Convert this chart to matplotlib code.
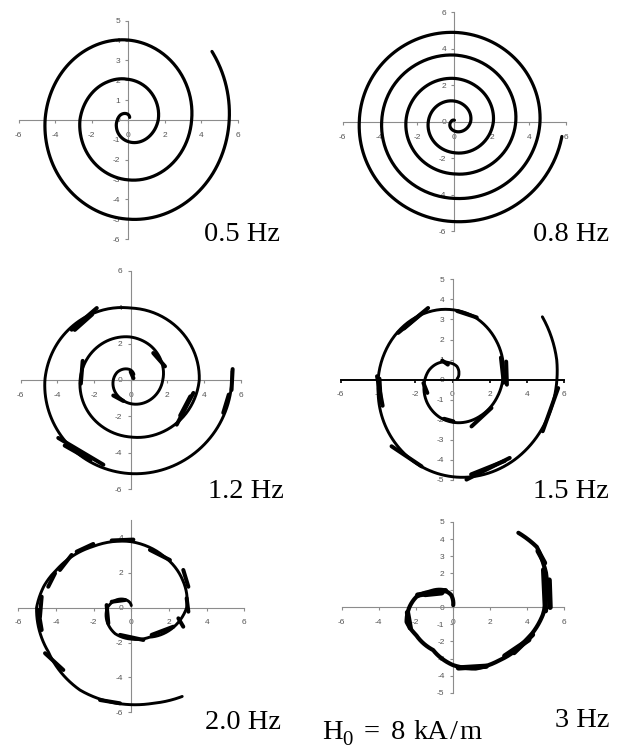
import numpy as np
import matplotlib
matplotlib.use("Agg")
import matplotlib.pyplot as plt
from matplotlib.projections.polar import PolarAxes
from matplotlib.path import Path
from matplotlib.patches import PathPatch

plt.rcParams['axes.unicode_minus'] = False
plt.rcParams['font.family'] = ['Liberation Sans', 'DejaVu Sans']

# ---------------- data ----------------
freq_labels = ["0.5 Hz", "0.8 Hz", "1.2 Hz", "1.5 Hz", "2.0 Hz", "3 Hz"]
# "H0 = 8 kA/m" split into its pieces: (text, is_subscript)
field_pieces = [("H", False), ("0", True), ("=", False), ("8", False),
                ("kA", False), ("/", False), ("m", False)]

# spiral traces: polar angle (deg, counter-clockwise, cumulative) and radius
theta_05 = [60, 90, 120, 150, 180, 210, 240, 270, 300, 330, 360, 390, 420, 450, 480, 510,
            540, 570, 600, 630, 660, 690, 720, 750, 780, 810, 840, 870, 900, 930, 960, 990,
            1020, 1050, 1080, 1110, 1117]
r_05 = [0.15, 0.27, 0.38, 0.5, 0.6, 0.75, 0.92, 1.09, 1.27, 1.45, 1.64, 1.78, 1.92, 2.05, 2.23,
        2.44, 2.65, 2.78, 2.9, 3.02, 3.17, 3.32, 3.47, 3.65, 3.84, 4.03, 4.2, 4.38, 4.56, 4.71,
        4.85, 5.0, 5.18, 5.36, 5.53, 5.7, 5.74]

theta_08 = [90, 120, 150, 180, 210, 240, 270, 300, 330, 360, 390, 420, 450, 480, 510, 540, 570,
            600, 630, 660, 690, 720, 750, 780, 810, 840, 870, 900, 930, 960, 990, 1020, 1050,
            1080, 1110, 1140, 1170, 1200, 1230, 1260, 1290, 1320, 1350, 1380, 1410, 1440, 1470,
            1500, 1530, 1560, 1590, 1620, 1650, 1680, 1710, 1740, 1770, 1792]
r_08 = [0.08, 0.1, 0.14, 0.18, 0.28, 0.4, 0.51, 0.63, 0.75, 0.87,
        0.96, 1.04, 1.13, 1.22, 1.31, 1.4, 1.5, 1.6, 1.7, 1.83,
        1.96, 2.09, 2.18, 2.27, 2.37, 2.45, 2.52, 2.6, 2.68, 2.77,
        2.86, 3.0, 3.15, 3.29, 3.41, 3.53, 3.65, 3.73, 3.82, 3.9,
        4.0, 4.1, 4.2, 4.33, 4.46, 4.59, 4.69, 4.79, 4.89, 4.96,
        5.03, 5.1, 5.22, 5.35, 5.47, 5.6, 5.72, 5.82]

theta_12 = [60, 90, 120, 150, 180, 210, 240, 270, 300, 330, 360, 390, 420, 450, 480, 510, 540,
            570, 600, 630, 660, 690, 720, 750, 780, 810, 840, 870, 900, 930, 960, 990, 1020,
            1050, 1080, 1085]
r_12 = [0.35, 0.55, 0.7, 0.85, 0.95, 1.05, 1.15, 1.3, 1.45, 1.6,
        1.75, 1.95, 2.17, 2.36, 2.5, 2.63, 2.76, 2.88, 3.0, 3.13,
        3.33, 3.54, 3.74, 3.8, 3.87, 3.95, 4.2, 4.45, 4.68, 4.83,
        4.99, 5.14, 5.27, 5.4, 5.52, 5.55]

theta_15 = [10, 40, 70, 100, 130, 160, 190, 220, 250, 280, 310, 340, 370, 400, 430, 460, 490,
            520, 550, 580, 610, 640, 670, 700, 730, 753]
r_15 = [0.25, 0.45, 0.7, 0.85, 1.1, 1.35, 1.55, 1.78, 2.0, 2.18, 2.35, 2.55, 2.78, 3.05, 3.35,
        3.55, 3.72, 3.88, 4.05, 4.35, 4.65, 4.93, 5.2, 5.45, 5.68, 5.75]

theta_20 = [90, 120, 150, 180, 210, 240, 270, 300, 330, 360, 390, 420, 450, 480, 510, 525, 540,
            570, 600, 622, 642, 658]
r_20 = [0.12, 0.5, 0.9, 1.27, 1.5, 1.72, 1.8, 1.95, 2.45, 2.94, 3.15, 3.42, 3.78, 4.05, 4.5,
        4.8, 5.03, 5.08, 5.45, 5.53, 5.6, 5.76]

theta_30 = [81, 97, 118, 144, 163, 180, 199, 219, 247, 270, 289, 309, 334, 355, 369, 382, 388,
            398, 411]
r_30 = [0.13, 0.73, 1.15, 1.55, 2.07, 2.35, 2.64, 2.56, 2.72, 3.38, 3.79, 3.99, 4.4, 4.88,
        5.11, 5.42, 5.52, 5.75, 5.62]

# short doubled strokes (x, y endpoints in data units)
strokes_05 = []
strokes_08 = []
strokes_12 = [
    [(-3.22, 2.76), (-1.85, 3.95)], [(-3.05, 2.75), (-2.1, 3.6)],
    [(-2.62, 1.05), (-2.72, -0.2)], [(1.23, 1.48), (1.87, 0.75)],
    [(3.42, -0.71), (2.51, -2.45)], [(3.25, -0.9), (2.7, -1.95)],
    [(-3.95, -3.18), (-1.49, -4.65)], [(-3.6, -3.6), (-2.2, -4.4)],
    [(5.56, 0.6), (5.5, -0.55)], [(5.35, -0.8), (5.05, -1.8)],
    [(-0.95, -0.85), (-0.4, -1.15)], [(0.0, 0.45), (0.15, 0.1)],
]
strokes_15 = [
    [(-2.92, 2.33), (-1.31, 3.57)], [(-2.6, 2.55), (-1.7, 3.25)],
    [(0.25, 3.42), (1.3, 3.1)], [(2.6, 1.1), (2.75, -0.15)],
    [(2.88, 0.9), (2.92, -0.25)], [(1.02, -2.33), (2.09, -1.41)],
    [(-0.45, -1.95), (0.05, -2.08)], [(-1.56, -0.17), (-1.35, -0.66)],
    [(-0.55, 0.95), (-0.25, 0.75)], [(-4.05, 0.17), (-3.75, -1.3)],
    [(-3.92, 0.05), (-3.85, -1.15)], [(-3.27, -3.32), (-1.66, -4.32)],
    [(0.75, -4.98), (3.07, -3.9)], [(1.0, -4.72), (2.8, -4.05)],
    [(5.67, -0.42), (4.84, -2.57)],
]
strokes_20 = [
    [(-1.04, 3.85), (0.11, 3.9)], [(-2.9, 3.21), (-2.02, 3.65)],
    [(-3.79, 2.16), (-3.17, 3.02)], [(-4.41, 1.2), (-4.05, 1.97)],
    [(-4.76, 0.63), (-4.85, -0.52)], [(-4.94, -0.13), (-4.76, -1.28)],
    [(-4.58, -2.61), (-3.61, -3.57)], [(-1.66, -5.29), (-0.6, -5.48)],
    [(0.99, 3.31), (2.05, 2.73)], [(2.76, 2.16), (3.03, 1.2)],
    [(2.94, 0.54), (3.03, -0.23)], [(2.5, -0.61), (2.76, -1.09)],
    [(1.08, -1.56), (2.23, -1.09)], [(-0.6, -1.56), (0.64, -1.85)],
    [(-1.31, 0.15), (-1.22, -0.9)], [(-1.04, 0.34), (-0.33, 0.44)],
]
strokes_30 = [
    [(-1.9, 0.72), (-0.4, 0.98)], [(-1.5, 0.75), (-0.6, 0.85)],
    [(-2.45, -0.3), (-2.3, -1.2)], [(2.8, -2.85), (4.1, -1.9)],
    [(3.3, -2.65), (4.3, -1.6)], [(4.9, 2.2), (5.0, -0.2)],
    [(5.2, 1.6), (5.25, 0.0)], [(4.95, 2.6), (4.6, 3.3)],
    [(0.3, -3.55), (1.8, -3.45)],
]

# ---------------- layout ----------------
W, H = 621, 749
fig = plt.figure(figsize=(W / 100, H / 100), dpi=100)

panels = [
    dict(theta=theta_05, r=r_05, strokes=strokes_05, box=(18.8, 20.8, 237.8, 239.0),
         ylim=(-6, 5), ystep=1, lw=2.3, dark_x=False, label_xy=(204, 240.7)),
    dict(theta=theta_08, r=r_08, strokes=strokes_08, box=(342.5, 12.1, 566.3, 231.3),
         ylim=(-6, 6), ystep=2, lw=2.3, dark_x=False, label_xy=(532.7, 240.7)),
    dict(theta=theta_12, r=r_12, strokes=strokes_12, box=(20.7, 270.7, 240.7, 489.3),
         ylim=(-6, 6), ystep=2, lw=2.1, dark_x=False, label_xy=(208, 498.3)),
    dict(theta=theta_15, r=r_15, strokes=strokes_15, box=(340.7, 279.3, 564.3, 480.0),
         ylim=(-5, 5), ystep=1, lw=2.1, dark_x=True, label_xy=(533.3, 498.3)),
    dict(theta=theta_20, r=r_20, strokes=strokes_20, box=(18.3, 520.4, 244.3, 712.4),
         ylim=(-6, 5), ystep=2, lw=2.1, dark_x=False, label_xy=(205, 729.3)),
    dict(theta=theta_30, r=r_30, strokes=strokes_30, box=(341.7, 522.0, 564.0, 692.7),
         ylim=(-5, 5), ystep=1, lw=3.0, dark_x=False, label_xy=(555, 726.7)),
]

# x position / baseline (pixels) of each piece of the field label
field_pos = [(321.7, 739.3), (342.0, 745.0), (364.0, 739.3), (391.0, 739.3),
             (413.3, 739.3), (450.5, 739.3), (459.5, 739.3)]

axis_gray = '#8c8c8c'
label_gray = '#555555'


def polar_transform():
    try:
        return PolarAxes.PolarTransform(apply_theta_transforms=False)
    except TypeError:
        return PolarAxes.PolarTransform()


for p, lab in zip(panels, freq_labels):
    l, t, rr, b = p['box']
    ax = fig.add_axes([l / W, 1 - b / H, (rr - l) / W, (b - t) / H])
    ax.patch.set_visible(False)
    for s in ('top', 'right'):
        ax.spines[s].set_visible(False)
    ax.spines['left'].set_position(('data', 0))
    ax.spines['bottom'].set_position(('data', 0))
    ax.spines['left'].set_color(axis_gray)
    ax.spines['left'].set_linewidth(0.8)
    if p['dark_x']:
        ax.spines['bottom'].set_color('black')
        ax.spines['bottom'].set_linewidth(1.4)
        ax.tick_params(axis='x', color='black', width=1.2)
    else:
        ax.spines['bottom'].set_color(axis_gray)
        ax.spines['bottom'].set_linewidth(0.8)
        ax.tick_params(axis='x', color=axis_gray, width=0.8)
    y0, y1 = p['ylim']
    ax.set_xlim(-6, 6)
    ax.set_ylim(y0, y1)

    # spiral: (theta, r) readings drawn through matplotlib's polar transform,
    # which traces each step as a polar (spiral) segment
    th = np.radians(np.array(p['theta'], dtype=float))
    rad = np.array(p['r'], dtype=float)
    spiral_path = Path(np.column_stack([th, rad]), _interpolation_steps=24)
    ax.add_patch(PathPatch(spiral_path, transform=polar_transform() + ax.transData,
                           fill=False, edgecolor='black', lw=p['lw'],
                           capstyle='round', joinstyle='round', zorder=3, clip_on=False))
    for (xa, ya), (xb, yb) in p['strokes']:
        ax.plot([xa, xb], [ya, yb], color='black', lw=p['lw'] + 0.8,
                solid_capstyle='round', zorder=3, clip_on=False)

    ax.set_xlim(-6, 6)
    ax.set_ylim(y0, y1)
    ax.set_xticks(np.arange(-6, 7, 2))
    if p['ystep'] == 1:
        ax.set_yticks(np.arange(y0, y1 + 1, 1))
    else:
        ax.set_yticks(np.arange(-6, y1 + 1, 2))
    ax.tick_params(axis='y', color=axis_gray, width=0.8)
    ax.tick_params(axis='both', direction='out', length=2.5, labelsize=6, labelcolor=label_gray)
    ax.tick_params(axis='x', pad=6)
    ax.tick_params(axis='y', pad=3.5)

    lx, ly = p['label_xy']
    fig.text(lx / W, 1 - ly / H, lab, fontfamily='Liberation Serif', fontsize=20.5,
             ha='left', va='baseline', color='black')

for (txt, sub), (px, py) in zip(field_pieces, field_pos):
    fig.text(px / W, 1 - py / H, txt, fontfamily='Liberation Serif',
             fontsize=15 if sub else 20.5, ha='left', va='baseline', color='black')

fig.savefig('out.png', dpi=100, facecolor='white')
